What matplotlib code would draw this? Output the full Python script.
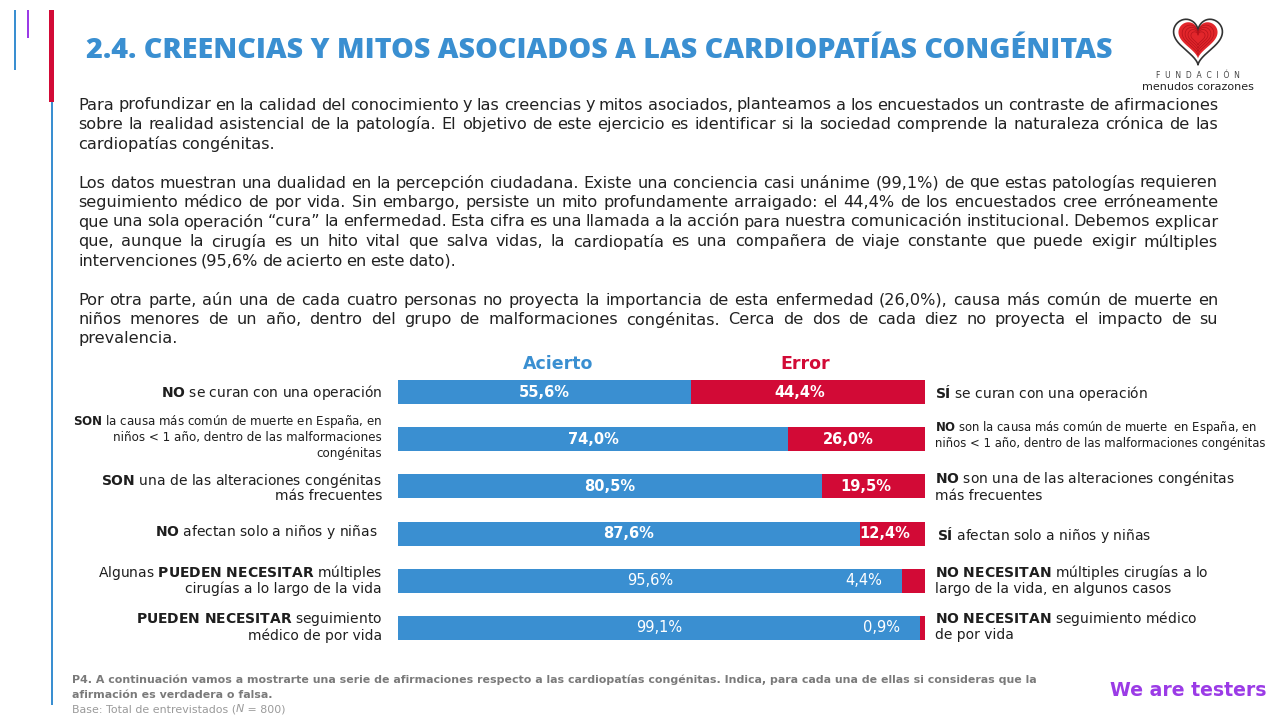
import matplotlib
matplotlib.use('Agg')
import matplotlib.pyplot as plt
from matplotlib.patches import Rectangle
import numpy as np

W, H = 1280, 720

AZUL = '#3A8FD1'
ROJO = '#D20A36'
MORADO = '#9B3BE6'
OSCURO = '#1E1E1E'
GRIS = '#7A7A7A'

# datos del gráfico
acierto = [55.6, 74.0, 80.5, 87.6, 95.6, 99.1]
error = [44.4, 26.0, 19.5, 12.4, 4.4, 0.9]
negrita_valor = [True, True, True, True, False, False]

# etiquetas (cada línea es una lista de segmentos (texto, negrita))
etiq_izq = [
    [[('NO', True), (' se curan con una operación', False)]],
    [[('SON', True), (' la causa más común de muerte en España, en', False)],
     [('niños < 1 año, dentro de las malformaciones', False)],
     [('congénitas', False)]],
    [[('SON', True), (' una de las alteraciones congénitas', False)],
     [('más frecuentes', False)]],
    [[('NO', True), (' afectan solo a niños y niñas', False)]],
    [[('Algunas ', False), ('PUEDEN NECESITAR', True), (' múltiples', False)],
     [('cirugías a lo largo de la vida', False)]],
    [[('PUEDEN NECESITAR', True), (' seguimiento', False)],
     [('médico de por vida', False)]],
]
etiq_der = [
    [[('SÍ', True), (' se curan con una operación', False)]],
    [[('NO', True), (' son la causa más común de muerte  en España, en', False)],
     [('niños < 1 año, dentro de las malformaciones congénitas', False)]],
    [[('NO', True), (' son una de las alteraciones congénitas', False)],
     [('más frecuentes', False)]],
    [[('SÍ', True), (' afectan solo a niños y niñas', False)]],
    [[('NO NECESITAN', True), (' múltiples cirugías a lo', False)],
     [('largo de la vida, en algunos casos', False)]],
    [[('NO NECESITAN', True), (' seguimiento médico', False)],
     [('de por vida', False)]],
]
# posiciones verticales (px) de cada línea de etiqueta
y_izq = [[393], [422, 438, 454], [480, 496], [532], [572, 589], [619, 636]]
y_der = [[393], [428, 443], [479, 496], [535], [572, 589], [618, 635]]
x_izq = [382, 382, 382, 378, 382, 382]
x_der = [935, 935, 935, 937, 935, 935]
tam_izq = [10.0, 8.6, 10.0, 10.0, 10.0, 10.0]
tam_der = [10.0, 8.4, 10.0, 10.0, 10.0, 10.0]

titulo = '2.4. CREENCIAS Y MITOS ASOCIADOS A LAS CARDIOPATÍAS CONGÉNITAS'

parrafos = [
    ['Para profundizar en la calidad del conocimiento y las creencias y mitos asociados, planteamos a los encuestados un contraste de afirmaciones',
     'sobre la realidad asistencial de la patología. El objetivo de este ejercicio es identificar si la sociedad comprende la naturaleza crónica de las',
     'cardiopatías congénitas.'],
    ['Los datos muestran una dualidad en la percepción ciudadana. Existe una conciencia casi unánime (99,1%) de que estas patologías requieren',
     'seguimiento médico de por vida. Sin embargo, persiste un mito profundamente arraigado: el 44,4% de los encuestados cree erróneamente',
     'que una sola operación “cura” la enfermedad. Esta cifra es una llamada a la acción para nuestra comunicación institucional. Debemos explicar',
     'que, aunque la cirugía es un hito vital que salva vidas, la cardiopatía es una compañera de viaje constante que puede exigir múltiples',
     'intervenciones (95,6% de acierto en este dato).'],
    ['Por otra parte, aún una de cada cuatro personas no proyecta la importancia de esta enfermedad (26,0%), causa más común de muerte en',
     'niños menores de un año, dentro del grupo de malformaciones congénitas. Cerca de dos de cada diez no proyecta el impacto de su',
     'prevalencia.'],
]

nota1 = 'P4. A continuación vamos a mostrarte una serie de afirmaciones respecto a las cardiopatías congénitas. Indica, para cada una de ellas si consideras que la'
nota2 = 'afirmación es verdadera o falsa.'

fig = plt.figure(figsize=(12.8, 7.2), dpi=100)
fig.patch.set_facecolor('white')
renderer = fig.canvas.get_renderer()


def fx(x):
    return x / W


def fy(y):
    return 1 - y / H


def ancho(s, **kw):
    t1 = fig.text(0, 0, '|' + s + '|', **kw)
    t2 = fig.text(0, 0, '||', **kw)
    w = t1.get_window_extent(renderer).width - t2.get_window_extent(renderer).width
    t1.remove()
    t2.remove()
    return w


def rica(segmentos):
    # negritas con mathtext para que el espaciado sea el natural
    partes = []
    for s, b in segmentos:
        if b:
            partes.append(r'$\mathbf{' + s.replace(' ', r'\ ') + '}$')
        else:
            partes.append(s)
    return ''.join(partes)


def justificar(x, y, lineas, total, size, salto, esp, color='#222222'):
    for i, linea in enumerate(lineas):
        palabras = linea.split(' ')
        anchos = [ancho(p, fontsize=size) for p in palabras]
        if i == len(lineas) - 1 or len(palabras) < 2:
            gap = esp
        else:
            gap = (total - sum(anchos)) / (len(palabras) - 1)
        x0 = x
        for p, w in zip(palabras, anchos):
            fig.text(fx(x0), fy(y + i * salto), p, fontsize=size, color=color,
                     va='center', ha='left')
            x0 += w + gap


def ajustar(s, objetivo, base, **kw):
    w = ancho(s, fontsize=base, **kw)
    return base * objetivo / w


def barra(x, y0, y1, w, color):
    fig.add_artist(Rectangle((fx(x - w / 2), fy(y1)), w / W, (y1 - y0) / H,
                             transform=fig.transFigure, color=color, lw=0))


# decoración izquierda
barra(15, 10, 70, 2, AZUL)
barra(28, 10, 38, 2.5, MORADO)
barra(52, 102, 705, 1.2, AZUL)
barra(51, 10, 102, 5, ROJO)

# título
fam_tit = ['Open Sans', 'DejaVu Sans']
t_size = ajustar(titulo, 1024, 18, fontweight=800, family=fam_tit)
fig.text(fx(86), fy(50), titulo, fontsize=t_size, fontweight=800, color=AZUL,
         family=fam_tit, va='center', ha='left')

# párrafos justificados: espacio entre palabras algo más estrecho que el de DejaVu
p_base = 10.8
esp_base = 0.72 * ancho(' ', fontsize=p_base)
mas_larga = 0
for p in parrafos:
    for l in p[:-1]:
        pal = l.split(' ')
        w = sum(ancho(q, fontsize=p_base) for q in pal) + esp_base * (len(pal) - 1)
        mas_larga = max(mas_larga, w)
p_size = p_base * 1140 / mas_larga
esp = esp_base * p_size / p_base
y0 = 105
salto = 19.5
for p in parrafos:
    justificar(78, y0, p, 1140, p_size, salto, esp)
    y0 += (len(p) + 1) * salto

# gráfico de barras
ax = fig.add_axes([fx(398), fy(651.6), 527 / W, 283.2 / H])
ax.axis('off')
y = np.arange(len(acierto))
ax.barh(y, acierto, height=0.51, color=AZUL, lw=0)
ax.barh(y, error, left=acierto, height=0.51, color=ROJO, lw=0)
ax.set_xlim(0, 100)
ax.set_ylim(5.5, -0.5)


def fmt(v):
    return f'{v:.1f}'.replace('.', ',') + '%'


for i, (a, e, b) in enumerate(zip(acierto, error, negrita_valor)):
    peso = 'bold' if b else 'normal'
    ax.text(a / 2, i, fmt(a), color='white', fontsize=10.5, fontweight=peso,
            ha='center', va='center')
    if e > 10:
        ax.text(a + e / 2 - 1.5, i, fmt(e), color='white', fontsize=10.5,
                fontweight=peso, ha='center', va='center')
    else:
        ax.text(a - 3.8, i, fmt(e), color='white', fontsize=10.5,
                fontweight=peso, ha='right', va='center')

fig.text(fx(558), fy(364), 'Acierto', fontsize=12.5, fontweight='bold', color=AZUL,
         ha='center', va='center')
fig.text(fx(805), fy(364), 'Error', fontsize=12.5, fontweight='bold', color=ROJO,
         ha='center', va='center')

for lineas, ys, xr, tam in zip(etiq_izq, y_izq, x_izq, tam_izq):
    for seg, yy in zip(lineas, ys):
        fig.text(fx(xr), fy(yy), rica(seg), fontsize=tam, color=OSCURO,
                 ha='right', va='center')
for lineas, ys, xl, tam in zip(etiq_der, y_der, x_der, tam_der):
    for seg, yy in zip(lineas, ys):
        fig.text(fx(xl), fy(yy), rica(seg), fontsize=tam, color=OSCURO,
                 ha='left', va='center')

# nota al pie
fam_nota = ['Liberation Sans Narrow', 'DejaVu Sans']
n_size = ajustar(nota1, 965, 8.5, fontweight='bold', family=fam_nota)
fig.text(fx(72), fy(680), nota1, fontsize=n_size, fontweight='bold', color=GRIS,
         family=fam_nota, va='center', ha='left')
fig.text(fx(72), fy(695), nota2, fontsize=n_size, fontweight='bold', color=GRIS,
         family=fam_nota, va='center', ha='left')
xb = 72
for s, st in [('Base: Total de entrevistados (', 'normal'), ('N', 'italic'), (' = 800)', 'normal')]:
    fig.text(fx(xb), fy(709), s, fontsize=n_size, fontstyle=st, color='#9A9A9A',
             family=fam_nota, va='center', ha='left')
    xb += ancho(s, fontsize=n_size, fontstyle=st, family=fam_nota)

# logo "We are testers"
w_size = ajustar('We are testers', 157, 15, fontweight='bold')
fig.text(fx(1267), fy(690), 'We are testers', fontsize=w_size, fontweight='bold',
         color=MORADO, ha='right', va='center')

# logo fundación
axl = fig.add_axes([fx(1169), fy(68), 58 / W, 52 / H])
axl.axis('off')
t = np.linspace(0, 2 * np.pi, 300)
hx = 16 * np.sin(t) ** 3
hy = 13 * np.cos(t) - 5 * np.cos(2 * t) - 2 * np.cos(3 * t) - np.cos(4 * t)
axl.plot(hx, hy, color='#333333', lw=1.2)
axl.fill(hx * 0.8, hy * 0.8 + 0.5, color='#E2262B', lw=0)
for k in range(4):
    axl.plot(hx * (0.65 - 0.12 * k), hy * (0.65 - 0.12 * k) + 0.5, color='#B5121B', lw=0.5)
axl.set_xlim(-19, 19)
axl.set_ylim(-19, 14)
fig.text(fx(1198), fy(76), 'F  U  N  D  A  C  I  Ó  N', fontsize=5.5, color='#444444',
         ha='center', va='center')
fig.text(fx(1198), fy(87), 'menudos corazones', fontsize=8, color='#222222',
         ha='center', va='center')

fig.savefig('out.png', dpi=100, facecolor='white')
